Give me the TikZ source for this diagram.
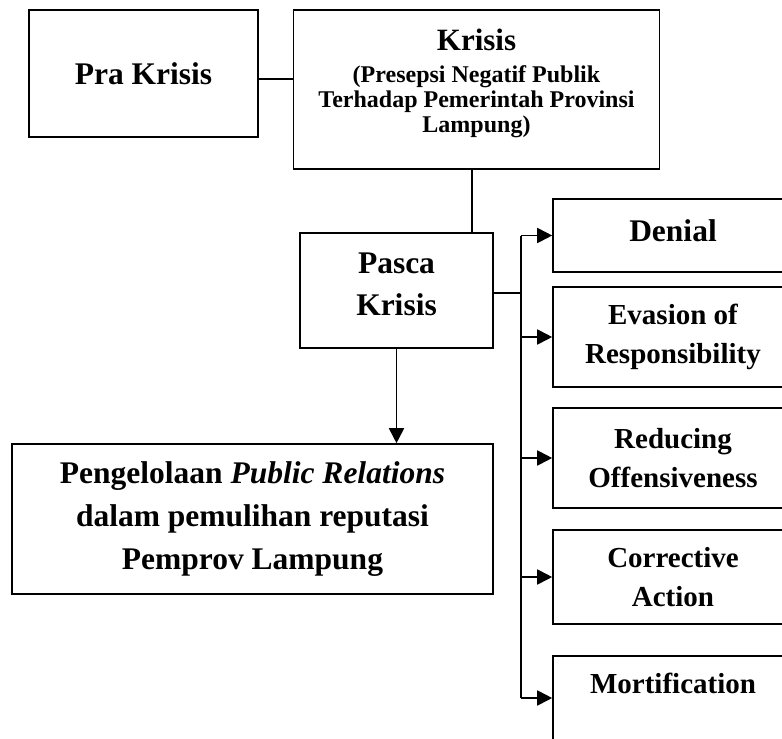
\documentclass[tikz,border=0pt]{standalone}
\usepackage{fontspec}
\setmainfont{Liberation Serif}
\usetikzlibrary{arrows.meta,calc}
\begin{document}
\begin{tikzpicture}[x=1pt,y=-1pt,
  box/.style={draw=black,line width=1.6pt,align=center,inner sep=0pt,font=\bfseries},
  conn/.style={line width=1.8pt},
  arr/.style={line width=1.8pt,-{Triangle[length=15pt,width=15pt]}},
  big/.style={font=\bfseries\fontsize{31.5}{42}\selectfont},
  side/.style={font=\bfseries\fontsize{29}{39}\selectfont}]
\useasboundingbox (0,0) rectangle (782,739);
% boxes
\node[box,big,minimum width=229pt,minimum height=127pt] (pra) at (143.5,73.5) {Pra Krisis};
\node[box,font=\bfseries\fontsize{24}{25}\selectfont,minimum width=366pt,minimum height=159pt,text depth=17pt] (krisis) at (476.5,89.5)
  {{\fontsize{31}{32}\selectfont Krisis}\\[7pt](Presepsi Negatif Publik\\Terhadap Pemerintah Provinsi\\Lampung)};
\node[box,big,minimum width=193pt,minimum height=115pt,text depth=12pt] (pasca) at (396.5,290.5) {Pasca\\Krisis};
\node[box,font=\bfseries\fontsize{31.5}{43}\selectfont,minimum width=481pt,minimum height=150pt] (pr) at (252.5,519)
  {Pengelolaan \textit{Public Relations}\\dalam pemulihan reputasi\\Pemprov Lampung};
\node[box,big,minimum width=240pt,minimum height=73pt,text depth=9pt] (denial) at (673,235.5) {Denial};
\node[box,side,minimum width=240pt,minimum height=100pt] (evasion) at (673,337) {Evasion of\\Responsibility};
\node[box,side,minimum width=240pt,minimum height=100pt] (reducing) at (673,458) {Reducing\\Offensiveness};
\node[box,side,minimum width=240pt,minimum height=94pt] (corrective) at (673,577) {Corrective\\Action};
\node[box,side,minimum width=240pt,minimum height=84pt,text depth=30pt] (mort) at (673,698) {Mortification};
% trunk
\coordinate (tt) at ([xshift=-31pt]denial.west);
\coordinate (tb) at ([xshift=-31pt]mort.west);
% connectors
\draw[conn] ([yshift=-5.5pt]pra.east) -- ([yshift=-5.5pt]pra.east -| krisis.west);
\draw[conn] ([xshift=-4.5pt]krisis.south) -- ([xshift=-4.5pt]krisis.south |- pasca.north);
\draw[conn] ([yshift=-2.5pt]pasca.east) -- ([yshift=-2.5pt]pasca.east -| tt);
\draw[conn] (tt) -- (tb);
\draw[arr] (tt) -- (denial.west);
\draw[arr] (evasion.west -| tt) -- (evasion.west);
\draw[arr] (reducing.west -| tt) -- (reducing.west);
\draw[arr] (corrective.west -| tt) -- (corrective.west);
\draw[arr] (tb) -- (mort.west);
\draw[arr] (pasca.south) -- (pasca.south |- pr.north);
\end{tikzpicture}
\end{document}
